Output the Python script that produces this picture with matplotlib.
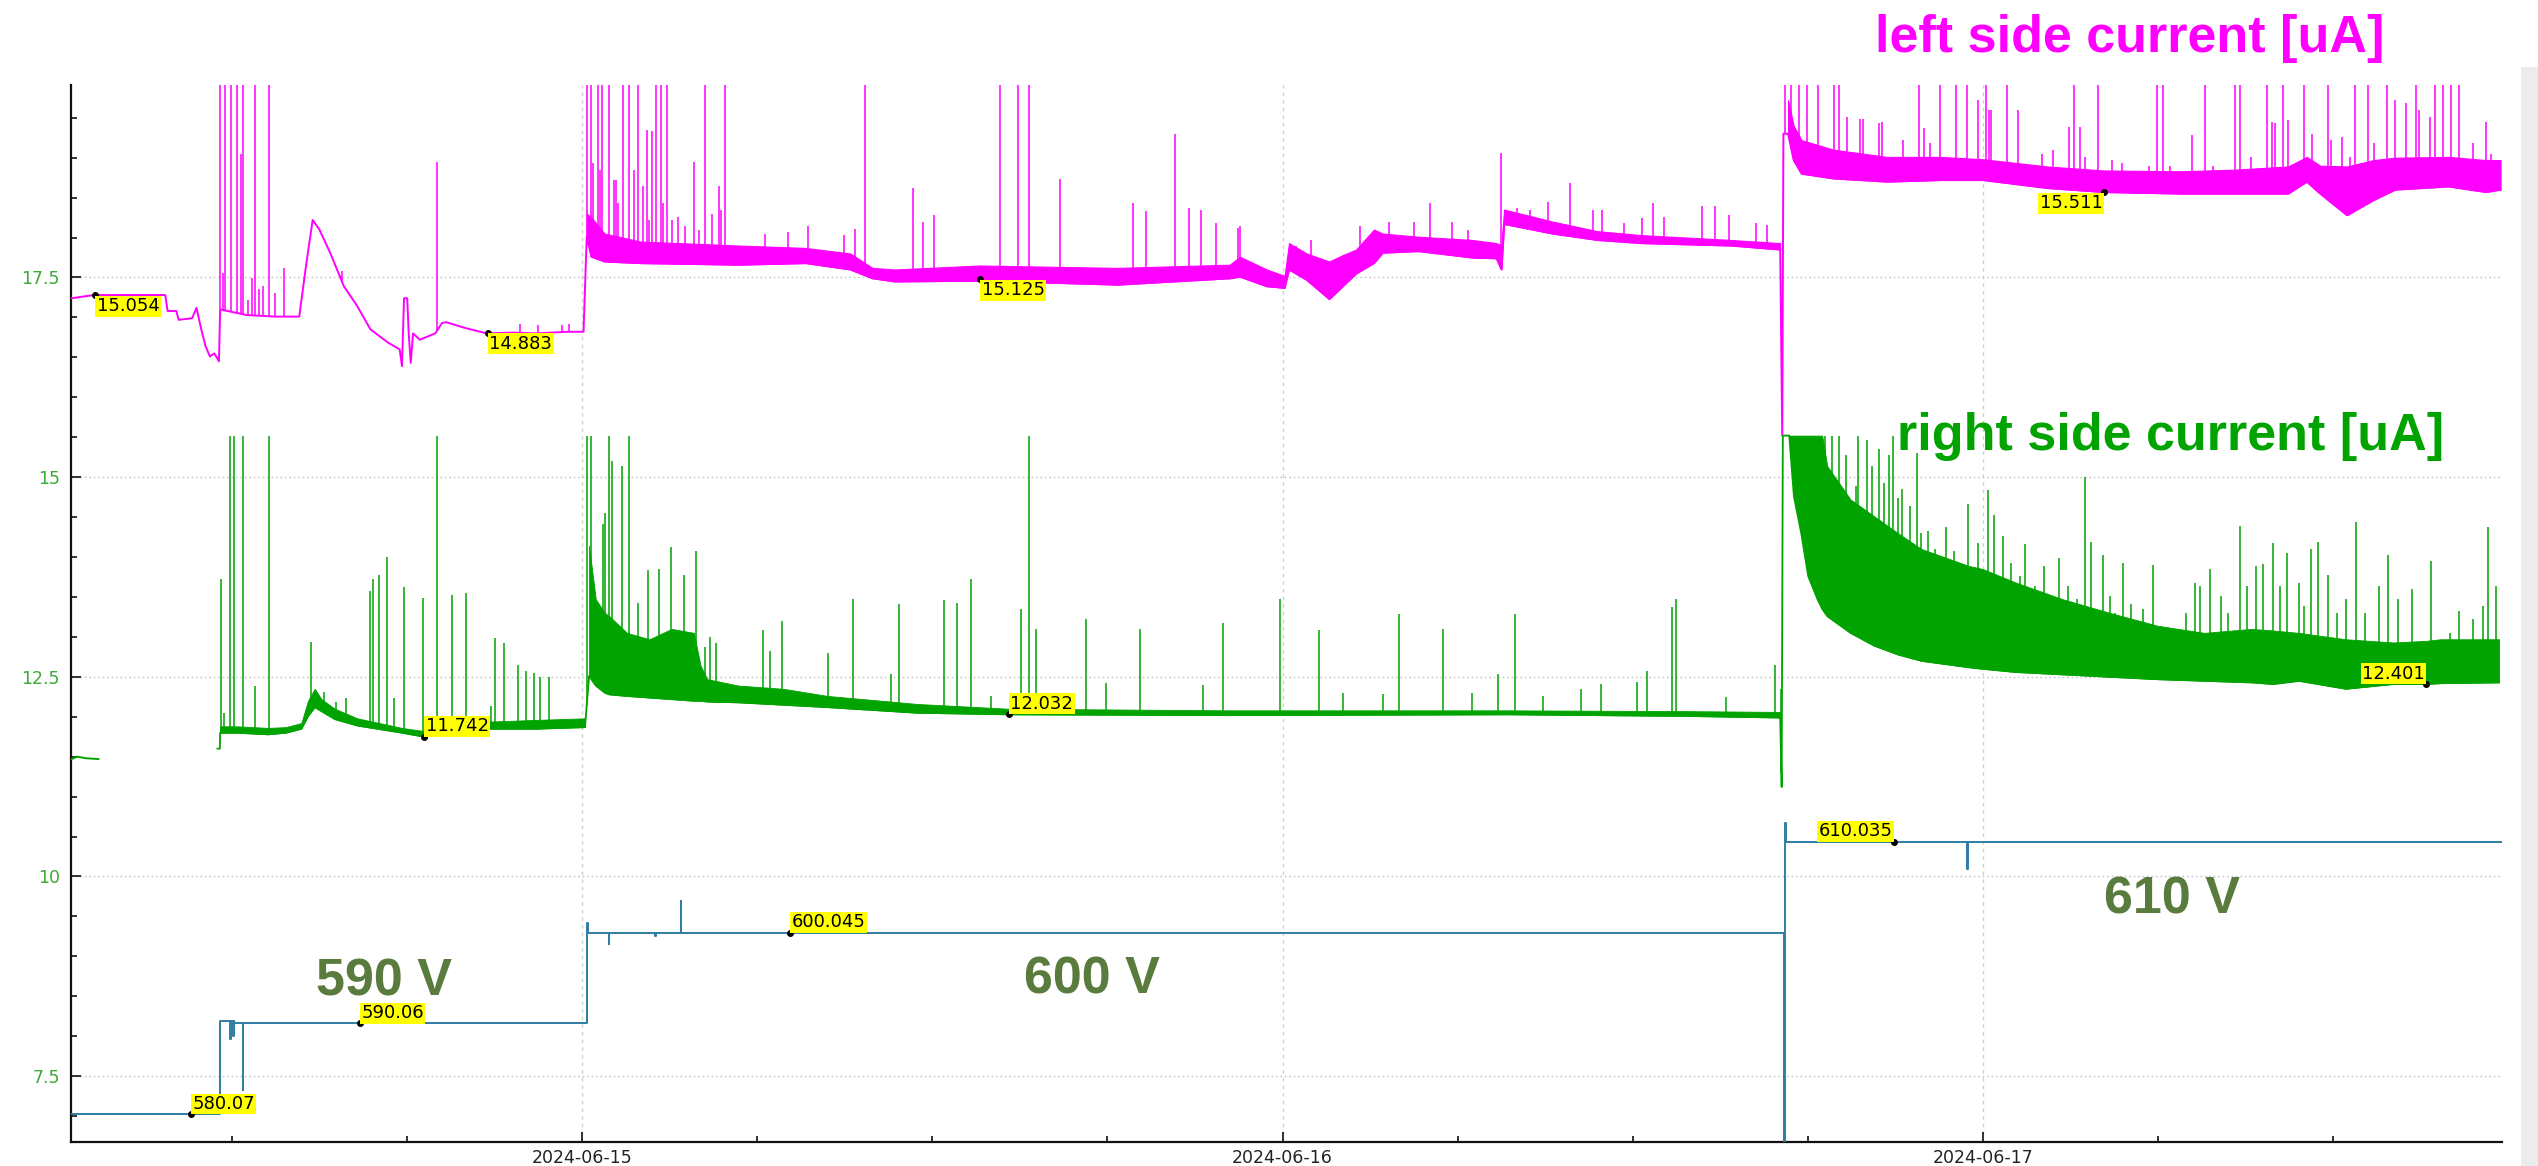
import numpy as np
import matplotlib
matplotlib.use("Agg")
import matplotlib.pyplot as plt
import matplotlib.dates as mdates
from matplotlib.patches import Rectangle
from matplotlib.ticker import MultipleLocator, FuncFormatter
from datetime import datetime

plt.rcParams['font.family'] = ['DejaVu Sans']

# ------------------------------------------------------------------
# DATA  (time in hours relative to 2024-06-15 00:00)
# ------------------------------------------------------------------
START_DAY = datetime(2024, 6, 15)
X_RANGE_H = [-17.51, 65.78]
Y_RANGE = [6.675, 19.91]

# ---- left side current (magenta), chart units ----
LEFT_SEG1_T = [-17.49, -16.73, -15.96, -14.28, -14.20, -13.90, -13.82, -13.36, -13.21, -13.06,
               -12.90, -12.75, -12.60, -12.44, -12.40, -11.50, -10.50, -9.69, -9.46, -9.23,
               -9.00, -8.62, -8.16, -7.70, -7.25, -6.63, -6.25, -6.17, -6.10, -5.99,
               -5.94, -5.87, -5.79, -5.56, -5.03, -4.80, -4.65, -4.03, -3.27, -2.35,
               -1.59, -0.51, 0.05]
LEFT_SEG1_V = [17.24, 17.28, 17.28, 17.28, 17.08, 17.08, 16.97, 16.99, 17.12, 16.87,
               16.64, 16.51, 16.55, 16.45, 17.10, 17.03, 17.01, 17.01, 17.64, 18.22,
               18.10, 17.80, 17.39, 17.14, 16.85, 16.68, 16.60, 16.39, 17.24, 17.24,
               16.80, 16.43, 16.80, 16.72, 16.80, 16.93, 16.94, 16.87, 16.80, 16.81,
               16.80, 16.82, 16.82]

LEFT_BAND2_T = [0.16, 0.32, 0.77, 2.00, 5.37, 7.66, 9.19, 9.95, 10.72, 13.62,
                18.36, 22.19, 22.54, 23.46, 24.07, 24.22, 24.83, 25.60, 26.06, 26.52,
                27.13, 27.43, 28.66, 30.49, 31.33, 31.50, 31.59, 33.25, 34.78, 36.31,
                39.36, 41.05]
LEFT_BAND2_LO = [18.01, 17.76, 17.70, 17.68, 17.66, 17.68, 17.60, 17.49, 17.45, 17.46,
                 17.41, 17.49, 17.51, 17.39, 17.37, 17.60, 17.47, 17.23, 17.39, 17.55,
                 17.68, 17.81, 17.83, 17.75, 17.74, 17.60, 18.17, 18.05, 17.97, 17.93,
                 17.90, 17.85]
LEFT_BAND2_HI = [18.30, 18.25, 18.05, 17.95, 17.90, 17.87, 17.80, 17.62, 17.60, 17.65,
                 17.62, 17.66, 17.76, 17.60, 17.52, 17.93, 17.80, 17.70, 17.78, 17.85,
                 18.10, 18.05, 18.01, 17.97, 17.93, 17.90, 18.35, 18.20, 18.08, 18.03,
                 17.97, 17.93]

LEFT_DROP_T = [41.12, 41.16]
LEFT_DROP_V = [15.52, 19.30]

LEFT_BAND3_T = [41.32, 41.51, 41.78, 42.88, 44.71, 46.54, 48.01, 50.21, 52.13, 54.79,
                56.62, 58.45, 59.09, 59.55, 60.47, 61.38, 62.12, 63.95, 65.23, 65.73]
LEFT_BAND3_LO = [19.30, 18.97, 18.80, 18.74, 18.70, 18.72, 18.72, 18.62, 18.57, 18.55,
                 18.55, 18.55, 18.70, 18.55, 18.28, 18.47, 18.60, 18.64, 18.57, 18.60]
LEFT_BAND3_HI = [19.72, 19.40, 19.22, 19.10, 19.01, 19.01, 18.98, 18.89, 18.84, 18.83,
                 18.85, 18.89, 19.01, 18.90, 18.89, 18.97, 19.00, 19.01, 18.97, 18.97]

LEFT_SPIKE_T = [-12.40, -12.22, -12.02, -11.83, -11.60, -11.19, -10.72, -11.68, -12.29, -11.45,
                -11.07, -11.30, -10.92, -10.53, -10.20, -8.24, -4.98, -2.12, -1.51, -0.70,
                -0.44,
                0.16, 0.32, 0.55, 0.70, 0.93, 1.39, 1.62, 1.92, 2.53, 2.69,
                2.92, 4.22, 4.91, 9.69, 14.31, 14.92, 15.31,
                1.16, 2.23, 2.38, 3.30, 3.83, 4.68, 6.28, 7.05, 7.74, 8.96,
                9.34, 11.33, 11.67, 12.05, 16.38, 18.87, 19.33, 20.32, 20.81, 21.19,
                21.73, 22.49, 22.54, 24.45, 24.99, 26.67, 27.63, 28.51, 29.04, 29.81,
                30.34, 31.49, 32.02, 32.48, 33.09, 33.86, 34.62, 34.93, 35.69, 36.31,
                36.69, 37.07, 38.37, 38.83, 39.29, 40.21, 40.59,
                0.39, 0.62, 1.08, 1.23, 1.77, 2.08, 2.31, 2.76, 3.07, 3.53,
                3.99, 4.45, 4.75,
                41.23, 41.41, 41.69, 41.96, 42.33, 42.88, 43.06, 45.81, 46.54, 47.09,
                47.46, 48.10, 48.83, 51.12, 51.95, 53.96, 54.15, 55.61, 56.62, 56.80,
                57.72, 58.27, 59.00, 59.83, 60.74, 61.20, 61.84, 62.85, 63.49, 63.77,
                64.04, 64.32,
                43.89, 44.53, 45.99, 48.19, 49.20, 51.31, 52.41, 55.16, 57.90, 62.12,
                62.48, 64.77, 65.23,
                43.34, 43.80, 44.44, 45.26, 46.18, 47.83, 48.28, 50.03, 50.39, 50.94,
                51.49, 52.77, 53.69, 54.42, 55.89, 57.17, 57.99, 58.45, 59.28, 59.92,
                60.29, 60.56, 61.38, 62.94, 63.31, 65.42]
LEFT_SPIKE_TOP = [20.0, 20.0, 20.0, 20.0, 20.0, 20.0, 20.0, 19.05, 17.55, 17.22,
                  17.35, 17.49, 17.39, 17.30, 17.62, 17.58, 18.94, 16.92, 16.90, 16.90,
                  16.92,
                  20.0, 20.0, 20.0, 20.0, 20.0, 20.0, 20.0, 20.0, 20.0, 20.0,
                  20.0, 20.0, 20.0, 20.0, 20.0, 20.0, 20.0,
                  18.72, 19.35, 19.33, 18.26, 18.95, 18.64, 18.05, 18.07, 18.15, 18.03,
                  18.11, 18.62, 18.20, 18.28, 18.73, 18.43, 18.33, 19.30, 18.37, 18.35,
                  18.18, 18.12, 18.14, 17.89, 17.97, 18.14, 18.20, 18.20, 18.43, 18.20,
                  18.10, 19.06, 18.37, 18.35, 18.45, 18.68, 18.35, 18.35, 18.18, 18.24,
                  18.43, 18.26, 18.39, 18.39, 18.28, 18.18, 18.16,
                  18.93, 18.85, 18.72, 18.43, 18.85, 18.64, 18.22, 18.43, 18.22, 18.14,
                  18.10, 18.30, 18.35,
                  20.0, 20.0, 20.0, 20.0, 20.0, 20.0, 20.0, 20.0, 20.0, 20.0,
                  20.0, 20.0, 20.0, 20.0, 20.0, 20.0, 20.0, 20.0, 20.0, 20.0,
                  20.0, 20.0, 20.0, 20.0, 20.0, 20.0, 20.0, 20.0, 20.0, 20.0,
                  20.0, 20.0,
                  19.49, 19.45, 19.37, 19.60, 19.60, 19.39, 18.97, 19.28, 19.45, 19.72,
                  19.68, 19.18, 19.45,
                  19.51, 19.49, 19.43, 19.22, 19.18, 19.72, 19.60, 19.05, 19.10, 19.39,
                  19.01, 18.93, 18.89, 18.89, 18.89, 19.01, 19.43, 19.47, 19.30, 19.22,
                  19.26, 19.01, 19.18, 19.60, 19.51, 19.05]

# ---- right side current (green), uA ----
RIGHT_SEGA_T = [-17.49, -17.30, -17.00, -16.57]
RIGHT_SEGA_V = [11.47, 11.50, 11.48, 11.47]

RIGHT_START_T = [-12.49, -12.41]
RIGHT_START_V = [11.60, 11.60]

RIGHT_BANDB_T = [-12.40, -11.83, -10.76, -10.15, -9.62, -9.39, -9.16, -8.93, -8.47, -7.70,
                 -6.17, -5.41, -4.65, -3.12, -1.59, 0.10]
RIGHT_BANDB_LO = [11.80, 11.80, 11.78, 11.80, 11.85, 12.01, 12.12, 12.07, 11.97, 11.89,
                  11.80, 11.75, 11.82, 11.85, 11.85, 11.87]
RIGHT_BANDB_HI = [11.88, 11.88, 11.86, 11.87, 11.92, 12.20, 12.35, 12.22, 12.10, 11.98,
                  11.86, 11.82, 11.88, 11.94, 11.96, 11.98]

RIGHT_BANDC_T = [0.24, 0.47, 0.78, 0.93, 1.54, 2.31, 3.07, 3.83, 4.06, 4.29,
                 5.36, 6.89, 8.42, 11.48, 14.62, 22.19, 31.72, 37.84, 41.05]
RIGHT_BANDC_LO = [12.51, 12.39, 12.30, 12.28, 12.26, 12.24, 12.22, 12.20, 12.20, 12.19,
                  12.18, 12.15, 12.12, 12.05, 12.03, 12.02, 12.03, 12.01, 11.99]
RIGHT_BANDC_HI = [14.14, 13.47, 13.30, 13.26, 13.05, 12.97, 13.10, 13.05, 12.64, 12.47,
                  12.39, 12.35, 12.26, 12.16, 12.10, 12.08, 12.08, 12.07, 12.06]

RIGHT_DROP_T = [41.10, 41.14]
RIGHT_DROP_V = [11.12, 15.52]

RIGHT_BANDD_T = [41.36, 41.52, 41.77, 42.01, 42.33, 42.49, 42.66, 43.46, 44.27, 45.08,
                 45.89, 47.50, 47.99, 49.12, 50.74, 52.35, 53.97, 55.58, 57.20, 57.93,
                 58.82, 60.43, 62.05, 63.18, 63.66, 65.68]
RIGHT_BANDD_LO = [15.52, 14.76, 14.30, 13.76, 13.47, 13.35, 13.26, 13.05, 12.89, 12.78,
                  12.70, 12.62, 12.60, 12.56, 12.53, 12.50, 12.47, 12.45, 12.43, 12.41,
                  12.45, 12.35, 12.41, 12.41, 12.42, 12.43]
RIGHT_BANDD_HI = [15.52, 15.52, 15.52, 15.52, 15.52, 15.52, 15.14, 14.72, 14.51, 14.30,
                  14.10, 13.89, 13.85, 13.68, 13.47, 13.30, 13.14, 13.05, 13.10, 13.08,
                  13.05, 12.97, 12.93, 12.95, 12.97, 12.97]

RIGHT_SPIKE_T = [-12.06, -11.91, -11.60, -10.72, -4.98, -12.38, -12.26, -11.19, -9.28, -8.85,
                 -8.42, -8.09, -7.28, -7.17, -6.95, -6.69, -6.43, -6.10, -5.46, -4.46,
                 -3.99, -3.12, -2.99, -2.66, -2.20, -1.92, -1.66, -1.43, -1.13, -0.59,
                 -0.06,
                 0.16, 0.29, 0.93, 1.62, 15.31, 0.73, 0.78, 1.04, 1.36, 1.92,
                 2.27, 2.64, 3.04, 3.50, 3.91, 4.22, 4.37, 4.60, 6.21, 6.43,
                 6.85, 8.41, 9.29, 10.60, 10.87, 12.40, 12.86, 13.33, 14.00, 15.03,
                 15.55, 17.26, 17.94, 19.13, 21.27, 21.96,
                 23.92, 25.26, 26.06, 27.43, 28.00, 29.50, 30.49, 31.37, 31.96, 32.94,
                 34.22, 34.90, 36.15, 36.50, 37.35, 37.48, 39.21, 40.88, 41.09,
                 42.58, 42.82, 43.06, 43.71, 44.92, 42.74, 43.30, 44.03, 44.43, 44.79,
                 45.24, 45.73, 46.13, 46.73, 47.47, 48.17, 48.39, 48.70, 49.44, 50.61,
                 51.51, 51.71, 52.11, 52.79, 53.81, 55.26, 55.78, 56.81, 57.60, 57.94,
                 58.41, 59.22, 59.48, 59.83, 60.77, 61.89, 63.34, 64.31, 65.31, 65.56,
                 43.14, 43.63, 44.19, 44.60, 45.08, 45.48, 45.89, 46.37, 47.02, 47.26,
                 47.83, 48.96, 49.28, 49.77, 50.09, 50.90, 51.22, 52.35, 52.51, 53.08,
                 53.48, 54.29, 54.94, 55.42, 56.15, 56.39, 57.04, 57.36, 58.17, 58.82,
                 58.98, 60.11, 60.43, 61.08, 61.56, 62.21, 62.69, 63.99, 64.80, 65.12]
RIGHT_SPIKE_TOP = [15.52, 15.52, 15.52, 15.52, 15.52, 13.72, 12.05, 12.38, 12.94, 12.31,
                   12.18, 12.23, 13.57, 13.72, 13.78, 14.00, 12.24, 13.62, 13.49, 13.53,
                   13.55, 12.14, 12.98, 12.92, 12.65, 12.57, 12.55, 12.50, 12.50, 11.97,
                   11.97,
                   15.52, 15.52, 15.52, 15.52, 15.52, 14.41, 14.55, 15.20, 15.14, 13.42,
                   13.84, 13.85, 14.12, 13.78, 14.07, 12.87, 13.00, 12.92, 13.08, 12.82,
                   13.20, 12.80, 13.47, 12.53, 13.41, 13.46, 13.43, 13.72, 12.26, 13.35,
                   13.10, 13.22, 12.42, 13.10, 12.40, 13.17,
                   13.47, 13.08, 12.30, 12.28, 13.29, 13.10, 12.30, 12.53, 13.29, 12.26,
                   12.35, 12.41, 12.44, 12.57, 13.37, 13.47, 12.25, 12.65, 12.35,
                   15.52, 15.52, 15.52, 15.52, 15.52, 14.64, 15.28, 15.47, 15.35, 15.28,
                   14.85, 15.30, 14.33, 14.37, 14.66, 14.84, 14.53, 14.26, 14.16, 13.99,
                   15.00, 14.19, 14.03, 13.93, 13.90, 13.68, 13.85, 14.39, 13.91, 14.18,
                   14.05, 14.10, 14.19, 13.78, 14.44, 14.02, 13.95, 13.32, 14.38, 13.64,
                   14.72, 14.89, 15.14, 14.93, 14.74, 14.64, 14.30, 14.10, 14.07, 13.89,
                   14.18, 13.93, 13.76, 13.64, 13.89, 13.64, 13.47, 13.51, 13.30, 13.41,
                   13.35, 13.10, 13.30, 13.64, 13.51, 13.30, 13.64, 13.89, 13.64, 13.68,
                   13.39, 13.30, 13.47, 13.30, 13.64, 13.47, 13.60, 13.05, 13.22, 13.39]

# ---- bias voltage (blue), V ----
VOLT_T = [-17.51, -12.41, -12.06, -12.04, -11.95, -11.93, -11.91, -11.63, -11.60, 0.17,
          0.22, 0.91, 0.93, 2.51, 2.53, 3.38, 3.40, 41.18, 41.21, 41.25,
          47.45, 47.47, 65.78]
VOLT_V = [580.07, 590.32, 588.4, 590.32, 588.7, 590.32, 590.06, 582.7, 590.06, 601.1,
          600.045, 598.85, 600.045, 599.7, 600.045, 603.5, 600.045, 560.0, 612.1, 610.035,
          607.07, 610.035, 610.035]

# ---- value labels ----
LEFT_LABEL_T = [-16.68, -3.22, 13.64, 52.14]
LEFT_LABEL_V = [17.28, 16.81, 17.48, 18.57]
LEFT_LABEL_TXT = ['15.054', '14.883', '15.125', '15.511']

RIGHT_LABEL_T = [-5.41, 14.63, 63.18]
RIGHT_LABEL_V = [11.75, 12.03, 12.41]
RIGHT_LABEL_TXT = ['11.742', '12.032', '12.401']

VOLT_LABEL_T = [-13.40, -7.61, 7.13, 44.95]
VOLT_LABEL_V = [580.07, 590.06, 600.045, 610.035]
VOLT_LABEL_TXT = ['580.07', '590.06', '600.045', '610.035']

VOLT_STEP_TEXT = ['590 V', '600 V', '610 V']

# ------------------------------------------------------------------
# STYLE / LAYOUT
# ------------------------------------------------------------------
W, H = 2538, 1166
C_MAG = '#ff00ff'
C_GRN = '#00a300'
C_BLU = '#2e7fa3'
C_VTXT = '#5a7b3e'
C_TICK_G = '#3aaa35'

BASE = mdates.date2num(START_DAY)


def hx(h):
    return BASE + np.asarray(h, dtype=float) / 24.0


fig = plt.figure(figsize=(W / 100, H / 100), dpi=100)
fig.patch.set_facecolor('white')
fig.patches.append(Rectangle((2521 / W, 0), 17 / W, (H - 67) / H, transform=fig.transFigure,
                             facecolor='#ececec', edgecolor='none', zorder=0))

ax = fig.add_axes([71 / W, 24 / H, (2502 - 71) / W, (1142 - 85) / H])
ax.set_xlim(hx(X_RANGE_H[0]), hx(X_RANGE_H[1]))
ax.set_ylim(*Y_RANGE)

# ---- magenta ----
lt = np.concatenate([LEFT_SEG1_T, LEFT_BAND2_T, LEFT_DROP_T, LEFT_BAND3_T])
lv = np.concatenate([LEFT_SEG1_V, LEFT_BAND2_LO, LEFT_DROP_V, LEFT_BAND3_LO])
ax.plot(hx(lt), lv, color=C_MAG, lw=1.4, zorder=3)
ax.fill_between(hx(LEFT_BAND2_T), LEFT_BAND2_LO, LEFT_BAND2_HI, color=C_MAG, lw=0.8, zorder=3)
ax.fill_between(hx(LEFT_BAND3_T), LEFT_BAND3_LO, LEFT_BAND3_HI, color=C_MAG, lw=0.8, zorder=3)
lbase = np.interp(LEFT_SPIKE_T, lt, lv)
ax.vlines(hx(LEFT_SPIKE_T), lbase, LEFT_SPIKE_TOP, color=C_MAG, lw=1.1, zorder=3)

# ---- green ----
ax.plot(hx(RIGHT_SEGA_T), RIGHT_SEGA_V, color=C_GRN, lw=1.4, zorder=3)
gt = np.concatenate([RIGHT_START_T, RIGHT_BANDB_T, RIGHT_BANDC_T, RIGHT_DROP_T, RIGHT_BANDD_T])
gv = np.concatenate([RIGHT_START_V, RIGHT_BANDB_LO, RIGHT_BANDC_LO, RIGHT_DROP_V, RIGHT_BANDD_LO])
ax.plot(hx(gt), gv, color=C_GRN, lw=1.3, zorder=3)
for bt, blo, bhi in [(RIGHT_BANDB_T, RIGHT_BANDB_LO, RIGHT_BANDB_HI),
                     (RIGHT_BANDC_T, RIGHT_BANDC_LO, RIGHT_BANDC_HI),
                     (RIGHT_BANDD_T, RIGHT_BANDD_LO, RIGHT_BANDD_HI)]:
    ax.fill_between(hx(bt), blo, bhi, color=C_GRN, lw=0.6, zorder=3)
gbase = np.interp(RIGHT_SPIKE_T, gt, gv)
ax.vlines(hx(RIGHT_SPIKE_T), gbase, RIGHT_SPIKE_TOP, color=C_GRN, lw=1.1, zorder=3)

# ---- voltage on a hidden twin scale ----
V_CAL = (580.07, 7.021, 610.035, 10.434)   # volts <-> chart units calibration
slope = (V_CAL[3] - V_CAL[1]) / (V_CAL[2] - V_CAL[0])
axv = ax.twinx()
axv.set_ylim(V_CAL[0] + (Y_RANGE[0] - V_CAL[1]) / slope, V_CAL[0] + (Y_RANGE[1] - V_CAL[1]) / slope)
axv.axis('off')
axv.plot(hx(VOLT_T), VOLT_V, color=C_BLU, lw=1.4, drawstyle='steps-post', zorder=3)


# ---- value labels ----
PLACE = {'br': ((1, -1.5), 'left', 'top'), 'ar': ((1, 1), 'left', 'bottom'),
         'al': ((-1, 1), 'right', 'bottom'), 'bl': ((-1, -1.5), 'right', 'top')}


def labels(axis, ts, vs, txts, places):
    for t, v, s, p in zip(ts, vs, txts, places):
        off, ha, va = PLACE[p]
        axis.plot(hx(t), v, 'o', color='black', ms=4, zorder=6)
        axis.annotate(s, (hx(t), v), xytext=off, textcoords='offset points', ha=ha, va=va,
                      fontsize=13, color='black', zorder=7,
                      bbox=dict(boxstyle='square,pad=0.08', fc='#ffff00', ec='none'))


labels(ax, LEFT_LABEL_T, LEFT_LABEL_V, LEFT_LABEL_TXT, ['br', 'br', 'br', 'bl'])
labels(ax, RIGHT_LABEL_T, RIGHT_LABEL_V, RIGHT_LABEL_TXT, ['ar', 'ar', 'al'])
labels(axv, VOLT_LABEL_T, VOLT_LABEL_V, VOLT_LABEL_TXT, ['ar', 'ar', 'ar', 'al'])

# ---- axes styling ----
for s in ['top', 'right']:
    ax.spines[s].set_visible(False)
for s in ['left', 'bottom']:
    ax.spines[s].set_linewidth(1.6)
    ax.spines[s].set_color('#111111')

ax.xaxis.set_major_locator(mdates.DayLocator())
ax.xaxis.set_minor_locator(mdates.HourLocator(byhour=[0, 6, 12, 18]))
ax.xaxis.set_major_formatter(mdates.DateFormatter('%Y-%m-%d'))
ax.yaxis.set_major_locator(MultipleLocator(2.5))
ax.yaxis.set_minor_locator(MultipleLocator(0.5))
ax.yaxis.set_major_formatter(FuncFormatter(lambda v, p: f'{v:g}'))

ax.tick_params(axis='both', which='both', direction='in', width=1.2, color='#111111')
ax.tick_params(axis='both', which='major', length=7)
ax.tick_params(axis='both', which='minor', length=4)
ax.tick_params(axis='y', which='major', labelsize=12.5, labelcolor=C_TICK_G, pad=8)
ax.tick_params(axis='x', which='major', labelsize=12.5, labelcolor='#222222', pad=5)

ax.grid(True, axis='y', which='major', linestyle=(0, (1.2, 2.0)), color='#c4c4c4', lw=1.0)
ax.grid(True, axis='x', which='major', linestyle=(0, (2.5, 3.0)), color='#d0d0d0', lw=1.0)
ax.set_axisbelow(True)

# ---- big annotations ----
big = dict(fontsize=37.5, fontweight='bold', family=['Liberation Sans', 'DejaVu Sans'],
           ha='center', va='baseline')
fig.text(2130 / W, 1 - 52 / H, 'left side current [uA]', color=C_MAG, **big)
fig.text(2171 / W, 1 - 450 / H, 'right side current [uA]', color=C_GRN, zorder=10, **big)
for (px, py), s in zip([(384, 995), (1092, 994), (2172, 914)], VOLT_STEP_TEXT):
    fig.text(px / W, 1 - py / H, s, color=C_VTXT, **big)

fig.savefig('out.png', dpi=100)
